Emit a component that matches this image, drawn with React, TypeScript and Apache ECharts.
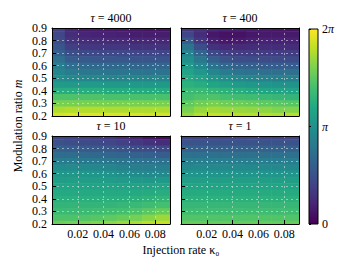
import React, { useEffect, useRef } from "react";
import * as echarts from "echarts";

// kappa_0 cell centres and modulation-ratio rows (top row m = 0.9 ... bottom m = 0.2)
const kappaCenters = [0.005, 0.015, 0.025, 0.035, 0.045, 0.055, 0.065, 0.075, 0.085];
const mRows = [0.9, 0.85, 0.8, 0.75, 0.7, 0.65, 0.6, 0.55, 0.5, 0.45, 0.4, 0.35, 0.3, 0.25, 0.2];

// phase values (radians, 0..2π)
const phaseTau4000 = [
  [1.2, 0.7, 0.5, 0.5, 0.45, 0.4, 0.4, 0.35, 0.35],
  [1.3, 0.8, 0.65, 0.6, 0.6, 0.55, 0.5, 0.5, 0.5],
  [1.45, 0.95, 0.8, 0.8, 0.75, 0.75, 0.7, 0.7, 0.7],
  [1.65, 1.15, 1.05, 1.0, 1.0, 1.0, 0.95, 0.95, 0.95],
  [1.9, 1.5, 1.4, 1.35, 1.35, 1.35, 1.3, 1.3, 1.3],
  [2.3, 1.85, 1.75, 1.7, 1.7, 1.7, 1.65, 1.65, 1.65],
  [2.65, 2.25, 2.15, 2.1, 2.1, 2.1, 2.05, 2.05, 2.05],
  [2.85, 2.6, 2.5, 2.5, 2.45, 2.45, 2.45, 2.4, 2.4],
  [3.05, 2.95, 2.9, 2.9, 2.85, 2.85, 2.85, 2.85, 2.85],
  [3.4, 3.4, 3.4, 3.4, 3.35, 3.35, 3.35, 3.35, 3.35],
  [3.9, 3.9, 3.9, 3.9, 3.85, 3.85, 3.85, 3.85, 3.85],
  [4.5, 4.5, 4.5, 4.5, 4.45, 4.45, 4.45, 4.45, 4.45],
  [5.0, 5.0, 5.0, 5.0, 5.0, 5.0, 5.0, 5.0, 5.0],
  [5.5, 5.55, 5.55, 5.55, 5.5, 5.5, 5.5, 5.5, 5.5],
  [5.9, 6.0, 6.0, 6.0, 6.0, 5.95, 5.95, 5.9, 5.9],
];
const phaseTau400 = [
  [1.0, 0.85, 0.7, 0.6, 0.55, 0.5, 0.45, 0.4, 0.35],
  [1.3, 0.8, 0.4, 0.3, 0.3, 0.4, 0.45, 0.45, 0.45],
  [1.8, 1.0, 0.55, 0.4, 0.45, 0.55, 0.6, 0.6, 0.6],
  [2.4, 1.5, 0.9, 0.75, 0.75, 0.8, 0.8, 0.8, 0.8],
  [2.8, 2.0, 1.4, 1.15, 1.1, 1.1, 1.1, 1.1, 1.1],
  [3.1, 2.5, 1.9, 1.6, 1.5, 1.5, 1.45, 1.45, 1.45],
  [3.4, 2.9, 2.4, 2.1, 1.95, 1.9, 1.85, 1.85, 1.85],
  [3.6, 3.3, 2.9, 2.6, 2.45, 2.35, 2.3, 2.3, 2.3],
  [3.8, 3.6, 3.3, 3.1, 2.95, 2.85, 2.8, 2.75, 2.75],
  [4.0, 3.9, 3.7, 3.55, 3.4, 3.3, 3.25, 3.2, 3.2],
  [4.2, 4.2, 4.1, 4.0, 3.9, 3.8, 3.7, 3.65, 3.6],
  [4.4, 4.5, 4.5, 4.4, 4.35, 4.3, 4.2, 4.15, 4.1],
  [4.7, 4.9, 5.0, 4.9, 4.85, 4.8, 4.7, 4.65, 4.6],
  [5.0, 5.3, 5.4, 5.35, 5.3, 5.25, 5.2, 5.1, 5.1],
  [5.3, 5.6, 5.75, 5.7, 5.65, 5.6, 5.6, 5.55, 5.6],
];
const phaseTau10 = [
  [1.3, 1.25, 1.2, 1.1, 1.0, 0.8, 0.6, 0.35, 0.2],
  [1.55, 1.5, 1.45, 1.4, 1.3, 1.2, 1.05, 0.9, 0.8],
  [1.9, 1.85, 1.8, 1.75, 1.7, 1.6, 1.5, 1.45, 1.4],
  [2.2, 2.2, 2.15, 2.1, 2.05, 2.0, 1.95, 1.9, 1.85],
  [2.6, 2.6, 2.55, 2.5, 2.45, 2.4, 2.35, 2.3, 2.3],
  [3.0, 3.0, 2.95, 2.9, 2.85, 2.75, 2.7, 2.65, 2.65],
  [3.3, 3.3, 3.3, 3.25, 3.2, 3.1, 3.0, 2.95, 2.95],
  [3.5, 3.5, 3.5, 3.5, 3.45, 3.4, 3.35, 3.3, 3.35],
  [3.65, 3.65, 3.65, 3.65, 3.65, 3.6, 3.6, 3.6, 3.65],
  [3.8, 3.8, 3.8, 3.8, 3.8, 3.8, 3.8, 3.85, 3.9],
  [3.95, 3.95, 3.95, 3.95, 3.95, 3.95, 4.0, 4.05, 4.1],
  [4.1, 4.1, 4.1, 4.1, 4.1, 4.15, 4.2, 4.3, 4.4],
  [4.25, 4.25, 4.25, 4.3, 4.35, 4.4, 4.5, 4.65, 4.8],
  [4.5, 4.5, 4.55, 4.6, 4.7, 4.8, 4.95, 5.15, 5.35],
  [4.9, 4.95, 5.0, 5.1, 5.2, 5.35, 5.5, 5.65, 5.75],
];
const phaseTau1 = [
  [1.25, 1.25, 1.25, 1.25, 1.25, 1.25, 1.25, 1.25, 1.25],
  [1.6, 1.6, 1.6, 1.6, 1.6, 1.6, 1.6, 1.6, 1.6],
  [1.95, 1.95, 1.95, 1.95, 1.95, 1.95, 1.95, 1.95, 1.95],
  [2.3, 2.3, 2.3, 2.3, 2.3, 2.3, 2.3, 2.3, 2.3],
  [2.65, 2.65, 2.65, 2.65, 2.65, 2.65, 2.65, 2.65, 2.65],
  [2.95, 2.95, 2.95, 2.95, 2.95, 2.95, 2.95, 2.95, 2.95],
  [3.25, 3.25, 3.25, 3.25, 3.25, 3.25, 3.25, 3.25, 3.25],
  [3.5, 3.5, 3.5, 3.5, 3.5, 3.5, 3.5, 3.5, 3.5],
  [3.7, 3.7, 3.7, 3.7, 3.7, 3.7, 3.7, 3.7, 3.7],
  [3.85, 3.85, 3.85, 3.85, 3.85, 3.85, 3.85, 3.85, 3.85],
  [4.0, 4.0, 4.0, 4.0, 4.0, 4.0, 4.0, 4.0, 4.0],
  [4.15, 4.15, 4.15, 4.15, 4.15, 4.15, 4.15, 4.15, 4.15],
  [4.3, 4.3, 4.3, 4.3, 4.3, 4.3, 4.3, 4.3, 4.3],
  [4.55, 4.55, 4.55, 4.55, 4.55, 4.55, 4.55, 4.55, 4.55],
  [4.8, 4.8, 4.8, 4.8, 4.8, 4.8, 4.8, 4.8, 4.8],
];

const panelTitles = ["4000", "400", "10", "1"];
const panelPhases = [phaseTau4000, phaseTau400, phaseTau10, phaseTau1];

const viridis = [
  "#440154", "#482475", "#414487", "#355f8d", "#2a788e", "#21918c",
  "#22a884", "#44bf70", "#7ad151", "#bddf26", "#fde725",
];

const FONT = "'Liberation Serif', 'DejaVu Serif', serif";
const TWO_PI = 2 * Math.PI;

const panelPos = [
  { left: 52, top: 28 },
  { left: 181, top: 28 },
  { left: 52, top: 136 },
  { left: 181, top: 136 },
];
const PW = 118;
const PH = 88;

export default function App() {
  const ref = useRef<HTMLDivElement>(null);

  useEffect(() => {
    if (!ref.current) return;
    const chart = echarts.init(ref.current, null, { renderer: "svg" });

    const grids: any[] = panelPos.map((p) => ({ left: p.left, top: p.top, width: PW, height: PH }));
    grids.push({ left: 309, top: 29, width: 9, height: 195 });

    const xAxes: any[] = [];
    const yAxes: any[] = [];
    const isTick = (v: number, step: number) => Math.abs(v / step - Math.round(v / step)) < 1e-6;
    const gridLine = {
      show: true,
      showMinLine: false,
      showMaxLine: false,
      lineStyle: { color: "rgba(230,230,230,0.55)", type: [2, 3], width: 1 },
    };

    panelPos.forEach((_, i) => {
      xAxes.push({
        gridIndex: i,
        type: "value",
        min: 0,
        max: 0.0915,
        interval: 0.02,
        z: 10,
        axisLine: { show: true, onZero: false, lineStyle: { color: "#000", width: 1 } },
        axisTick: { show: true, inside: true, length: 4, lineStyle: { color: "#000" } },
        axisLabel: {
          show: i >= 2,
          color: "#000",
          fontFamily: FONT,
          fontSize: 12,
          margin: 4,
          formatter: (v: number) => (v > 0 && isTick(v, 0.02) ? v.toFixed(2) : ""),
        },
        splitLine: gridLine,
      });
      yAxes.push({
        gridIndex: i,
        type: "value",
        min: 0.2,
        max: 0.9,
        interval: 0.1,
        z: 10,
        axisLine: { show: true, onZero: false, lineStyle: { color: "#000", width: 1 } },
        axisTick: { show: true, inside: true, length: 4, lineStyle: { color: "#000" } },
        axisLabel: {
          show: i % 2 === 0,
          color: "#000",
          fontFamily: FONT,
          fontSize: 12,
          margin: 5,
          formatter: (v: number) => v.toFixed(1),
        },
        splitLine: gridLine,
      });
    });
    panelPos.forEach((_, i) => {
      xAxes.push({
        gridIndex: i, type: "value", position: "top", min: 0, max: 0.0915, z: 10,
        axisLine: { show: true, onZero: false, lineStyle: { color: "#000", width: 1 } },
        axisTick: { show: false }, axisLabel: { show: false }, splitLine: { show: false },
      });
      yAxes.push({
        gridIndex: i, type: "value", position: "right", min: 0.2, max: 0.9, z: 10,
        axisLine: { show: true, onZero: false, lineStyle: { color: "#000", width: 1 } },
        axisTick: { show: false }, axisLabel: { show: false }, splitLine: { show: false },
      });
    });
    // colorbar axes
    xAxes.push({ gridIndex: 4, type: "value", min: 0, max: 1, show: false });
    yAxes.push({
      gridIndex: 4,
      type: "value",
      position: "right",
      min: 0,
      max: TWO_PI,
      interval: Math.PI,
      z: 10,
      axisLine: { show: false },
      axisTick: { show: true, length: 2, lineStyle: { color: "#000" } },
      splitLine: { show: false },
      axisLabel: {
        color: "#000",
        fontFamily: FONT,
        fontSize: 12,
        margin: 4,
        formatter: (v: number) => {
          const k = Math.round(v / Math.PI);
          return k === 0 ? "0" : k === 1 ? "{i|π}" : "2{i|π}";
        },
        rich: { i: { fontFamily: FONT, fontStyle: "italic", fontSize: 12, color: "#000" } },
      },
    });

    const nx = kappaCenters.length;
    const ny = mRows.length;
    const series: any[] = panelPhases.map((grid, i) => {
      const data: any[] = [];
      grid.forEach((row, r) =>
        row.forEach((v, c) => data.push([kappaCenters[c], mRows[r], v, c, r]))
      );
      return {
        type: "custom",
        coordinateSystem: "cartesian2d",
        xAxisIndex: i,
        yAxisIndex: i,
        clip: true,
        data,
        encode: { x: 0, y: 1 },
        renderItem: (params: any, api: any) => {
          const x = api.value(0);
          const y = api.value(1);
          const c = api.value(3);
          const r = api.value(4);
          const x0 = c === 0 ? x - 0.02 : x - 0.005;
          const x1 = c === nx - 1 ? x + 0.02 : x + 0.005;
          const y1 = r === 0 ? y + 0.1 : y + 0.025;
          const y0 = r === ny - 1 ? y - 0.1 : y - 0.025;
          const p0 = api.coord([x0, y1]);
          const p1 = api.coord([x1, y0]);
          return {
            type: "rect",
            shape: { x: p0[0], y: p0[1], width: p1[0] - p0[0] + 0.6, height: p1[1] - p0[1] + 0.6 },
            style: { fill: api.visual("color") },
          };
        },
      };
    });

    series.push({
      type: "custom",
      coordinateSystem: "cartesian2d",
      xAxisIndex: 8,
      yAxisIndex: 8,
      data: [[0, 0]],
      renderItem: (params: any, api: any) => {
        const p0 = api.coord([0, TWO_PI]);
        const p1 = api.coord([1, 0]);
        return {
          type: "rect",
          shape: { x: p0[0], y: p0[1], width: p1[0] - p0[0], height: p1[1] - p0[1] },
          style: {
            fill: new echarts.graphic.LinearGradient(
              0, 1, 0, 0,
              viridis.map((col, k) => ({ offset: k / (viridis.length - 1), color: col }))
            ),
            stroke: "#000",
            lineWidth: 1,
          },
        };
      },
    });

    const graphics: any[] = panelPos.map((p, i) => ({
      type: "text",
      x: p.left + PW / 2,
      y: p.top - 10,
      style: {
        text: "{i|τ} = " + panelTitles[i],
        font: `12px ${FONT}`,
        fill: "#000",
        align: "center",
        verticalAlign: "middle",
        rich: { i: { fontFamily: FONT, fontStyle: "italic", fontSize: 12, fill: "#000" } },
      },
    }));
    graphics.push({
      type: "text",
      x: 181,
      y: 250,
      style: {
        text: "Injection rate κ₀",
        font: `12px ${FONT}`,
        fill: "#000",
        align: "center",
        verticalAlign: "middle",
      },
    });
    graphics.push({
      type: "text",
      x: 18,
      y: 126,
      rotation: Math.PI / 2,
      style: {
        text: "Modulation ratio {i|m}",
        font: `12px ${FONT}`,
        fill: "#000",
        align: "center",
        verticalAlign: "middle",
        rich: { i: { fontFamily: FONT, fontStyle: "italic", fontSize: 12, fill: "#000" } },
      },
    });

    chart.setOption({
      animation: false,
      backgroundColor: "#fff",
      grid: grids,
      xAxis: xAxes,
      yAxis: yAxes,
      visualMap: {
        type: "continuous",
        show: false,
        min: 0,
        max: TWO_PI,
        dimension: 2,
        seriesIndex: [0, 1, 2, 3],
        inRange: { color: viridis },
      },
      series,
      graphic: graphics,
    });

    return () => chart.dispose();
  }, []);

  return (
    <div
      ref={ref}
      style={{ position: "absolute", left: 0, top: 0, width: 350, height: 272 }}
    />
  );
}
